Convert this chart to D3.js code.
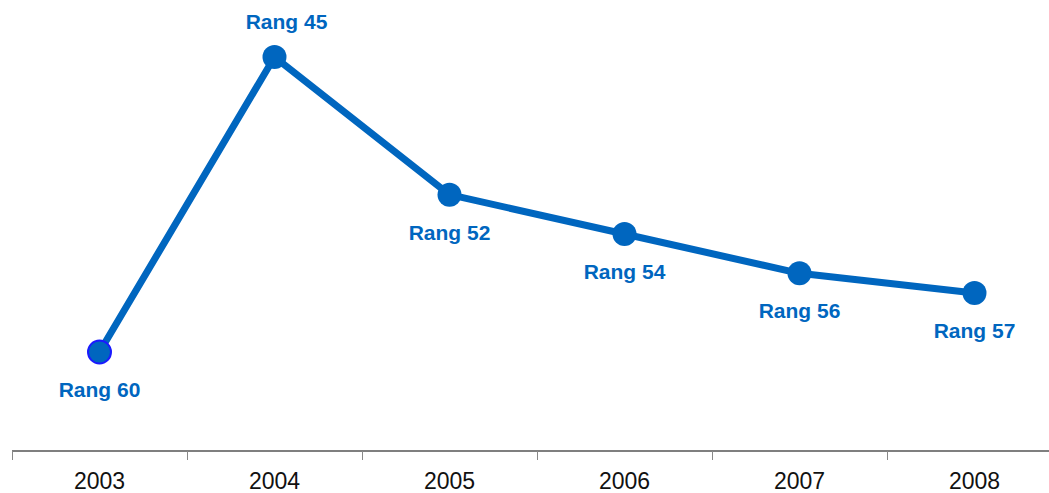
<!DOCTYPE html>
<html>
<head>
<meta charset="utf-8">
<script src="https://cdn.jsdelivr.net/npm/d3@7"></script>
<style>
  html, body { margin: 0; padding: 0; background: #fff; }
  svg { display: block; }
</style>
</head>
<body>
<svg id="chart" width="1049" height="493"></svg>
<script>
// Ranking per year
const years = ["2003", "2004", "2005", "2006", "2007", "2008"];
const ranks = [60, 45, 52, 54, 56, 57];
const labelPlacement = ["below", "above", "below", "below", "below", "below"];

const W = 1049, H = 493;
const blue = "#0066bf";

const svg = d3.select("#chart");

const x = d3.scaleBand().domain(years).range([12, 1062]).padding(0);
const y = d3.scaleLinear().domain([45, 60]).range([57, 352]);
const axisY = 451;

// Category axis with ticks on band boundaries
const g = svg.append("g");
g.append("line")
  .attr("x1", 12).attr("x2", W)
  .attr("y1", axisY).attr("y2", axisY)
  .attr("stroke", "#000").attr("stroke-width", 1.2);

g.selectAll("line.tick")
  .data(years)
  .join("line")
  .attr("class", "tick")
  .attr("x1", d => x(d) + 0.5).attr("x2", d => x(d) + 0.5)
  .attr("y1", axisY).attr("y2", axisY + 9)
  .attr("stroke", "#888").attr("stroke-width", 1);

g.selectAll("text.year")
  .data(years)
  .join("text")
  .attr("class", "year")
  .attr("x", d => x(d) + x.bandwidth() / 2)
  .attr("y", 489)
  .attr("text-anchor", "middle")
  .attr("font-family", "Liberation Sans, Arial, sans-serif")
  .attr("font-size", 23)
  .attr("fill", "#111")
  .text(d => d);

const pts = years.map((yr, i) => ({ year: yr, rank: ranks[i], pos: labelPlacement[i] }));
const cx = d => x(d.year) + x.bandwidth() / 2;

const line = d3.line().x(cx).y(d => y(d.rank));

svg.append("path")
  .datum(pts)
  .attr("d", line)
  .attr("fill", "none")
  .attr("stroke", blue)
  .attr("stroke-width", 7)
  .attr("stroke-linejoin", "round");

svg.selectAll("circle.pt")
  .data(pts)
  .join("circle")
  .attr("class", "pt")
  .attr("cx", cx)
  .attr("cy", d => y(d.rank))
  .attr("r", (d, i) => i === 0 ? 11.5 : 12)
  .attr("fill", blue)
  .attr("stroke", (d, i) => i === 0 ? "#1a1aff" : "none")
  .attr("stroke-width", 2);

// Value labels; the peak label sits above and slightly right of its marker
svg.selectAll("text.lbl")
  .data(pts)
  .join("text")
  .attr("class", "lbl")
  .attr("x", d => d.pos === "above" ? cx(d) + 12 : cx(d))
  .attr("y", d => d.pos === "above" ? y(d.rank) - 28 : y(d.rank) + 45)
  .attr("text-anchor", "middle")
  .attr("font-family", "Liberation Sans, Arial, sans-serif")
  .attr("font-weight", "bold")
  .attr("font-size", 21)
  .attr("fill", blue)
  .text(d => "Rang " + d.rank);
</script>
</body>
</html>
